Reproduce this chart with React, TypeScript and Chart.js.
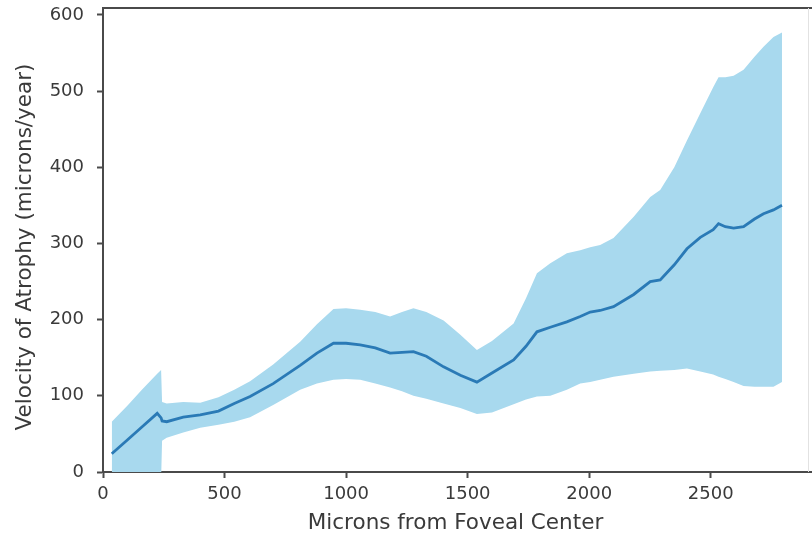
import { useEffect, useRef } from "react";
import { Chart, registerables } from "chart.js";

Chart.register(...registerables);

// Distance from foveal center (microns)
const distance = [
  36, 100, 160, 223, 239, 243, 262, 330, 400, 475, 540, 605, 700, 811, 880, 948,
  1000, 1058, 1120, 1181, 1230, 1277, 1330, 1401, 1470, 1538, 1600, 1689, 1740,
  1785, 1840, 1908, 1963, 2004, 2045, 2100, 2183, 2251, 2292, 2350, 2402, 2457,
  2510, 2532, 2560, 2594, 2635, 2680, 2717, 2758, 2793,
];
// Mean velocity of atrophy (microns/year)
const meanVelocity = [
  24, 42, 59, 77, 71, 67, 66, 72, 75, 80, 90, 99, 116, 140, 156, 169,
  169, 167, 163, 156, 157, 158, 152, 138, 127, 118, 130, 147, 165,
  184, 190, 197, 204, 210, 212, 217, 233, 250, 252, 272, 293, 308,
  318, 326, 322, 320, 322, 332, 339, 344, 350,
];
// Upper edge of confidence band
const upperBound = [
  66, 87, 108, 129, 134, 92, 90, 92, 91, 98, 108, 119, 141, 171, 194, 214,
  215, 213, 210, 204, 210, 215, 210, 199, 180, 160, 172, 195, 228,
  261, 274, 287, 291, 295, 298, 307, 335, 361, 370, 400, 435, 471,
  505, 518, 518, 520, 528, 545, 558, 571, 577,
];
// Lower edge of confidence band
const lowerBound = [
  -40, -20, -10, -10, -10, 41, 45, 52, 58, 62, 66, 72, 88, 108, 116, 121,
  122, 121, 116, 111, 106, 100, 96, 90, 84, 76, 78, 89, 95,
  99, 100, 108, 116, 118, 121, 125, 129, 132, 133, 134, 136, 132,
  128, 125, 122, 118, 113, 112, 112, 112, 118,
];

const xTicks = [0, 500, 1000, 1500, 2000, 2500];
const yTicks = [0, 100, 200, 300, 400, 500, 600];
const xTitle = "Microns from Foveal Center";
const yTitle = "Velocity of Atrophy (microns/year)";

const axisColor = "#4a4a4a";
const textColor = "#3a3a3a";
const fontFamily = "'DejaVu Sans', sans-serif";

const framePlugin = {
  id: "frame",
  afterDraw(chart: any) {
    const { ctx, chartArea: a } = chart;
    ctx.save();
    ctx.strokeStyle = axisColor;
    ctx.lineWidth = 2;
    ctx.beginPath();
    ctx.moveTo(a.left, a.top);
    ctx.lineTo(chart.width, a.top);
    ctx.moveTo(a.right - 2, a.bottom);
    ctx.lineTo(chart.width, a.bottom);
    ctx.stroke();
    ctx.strokeStyle = "#e2e2e2";
    ctx.lineWidth = 1;
    ctx.beginPath();
    ctx.moveTo(a.right + 0.5, a.top);
    ctx.lineTo(a.right + 0.5, a.bottom);
    ctx.stroke();
    // y-axis title
    ctx.fillStyle = textColor;
    ctx.font = `21.5px ${fontFamily}`;
    ctx.textAlign = "center";
    ctx.textBaseline = "middle";
    ctx.translate(25, (a.top + a.bottom) / 2 + 7);
    ctx.rotate(-Math.PI / 2);
    ctx.fillText(yTitle, 0, 0);
    ctx.restore();
  },
};

export default function App() {
  const ref = useRef<HTMLCanvasElement>(null);

  useEffect(() => {
    if (!ref.current) return;
    const chart = new Chart(ref.current, {
      type: "line",
      data: {
        datasets: [
          {
            label: "mean",
            data: distance.map((x, i) => ({ x, y: meanVelocity[i] })),
            borderColor: "#2a7ab6",
            borderWidth: 2.8,
            pointRadius: 0,
            fill: false,
            tension: 0,
          },
          {
            label: "upper",
            data: distance.map((x, i) => ({ x, y: upperBound[i] })),
            borderWidth: 0,
            borderColor: "rgba(0,0,0,0)",
            backgroundColor: "#a8d9ee",
            pointRadius: 0,
            fill: "+1",
            tension: 0,
          },
          {
            label: "lower",
            data: distance.map((x, i) => ({ x, y: lowerBound[i] })),
            borderWidth: 0,
            borderColor: "rgba(0,0,0,0)",
            pointRadius: 0,
            fill: false,
            tension: 0,
          },
        ],
      },
      options: {
        responsive: false,
        animation: false,
        layout: { padding: { left: 0, right: 4, top: 8, bottom: 0 } },
        plugins: {
          legend: { display: false },
          tooltip: { enabled: false },
        },
        scales: {
          x: {
            type: "linear",
            min: 0,
            max: 2900,
            afterBuildTicks: (s: any) => {
              s.ticks = xTicks.map((v) => ({ value: v }));
            },
            afterFit: (s: any) => {
              s.height = 71;
              s.paddingLeft = 0;
              s.paddingRight = 0;
            },
            grid: {
              drawOnChartArea: false,
              drawTicks: true,
              tickLength: 6,
              tickColor: axisColor,
              tickWidth: 2,
            },
            border: { display: true, color: axisColor, width: 2 },
            ticks: {
              padding: 6,
              color: textColor,
              font: { family: fontFamily, size: 18 },
              maxRotation: 0,
              autoSkip: false,
              callback: (v: any) => String(v),
            },
            title: {
              display: true,
              text: xTitle,
              color: textColor,
              font: { family: fontFamily, size: 21.5 },
              padding: { top: 0, bottom: 7 },
            },
          },
          y: {
            type: "linear",
            min: 0,
            max: 609,
            afterBuildTicks: (s: any) => {
              s.ticks = yTicks.map((v) => ({ value: v }));
            },
            afterFit: (s: any) => {
              s.width = 103;
              s.paddingTop = 0;
              s.paddingBottom = 0;
            },
            grid: {
              drawOnChartArea: false,
              drawTicks: true,
              tickLength: 6,
              tickColor: axisColor,
              tickWidth: 2,
            },
            border: { display: true, color: axisColor, width: 2 },
            ticks: {
              padding: 13,
              color: textColor,
              font: { family: fontFamily, size: 18 },
              autoSkip: false,
              callback: (v: any) => String(v),
            },
            title: { display: false },
          },
        },
      },
      plugins: [framePlugin],
    });
    return () => chart.destroy();
  }, []);

  return (
    <div style={{ position: "absolute", left: 0, top: 0, width: 812, height: 543, background: "#fff" }}>
      <canvas ref={ref} width={812} height={543} style={{ display: "block" }} />
    </div>
  );
}
